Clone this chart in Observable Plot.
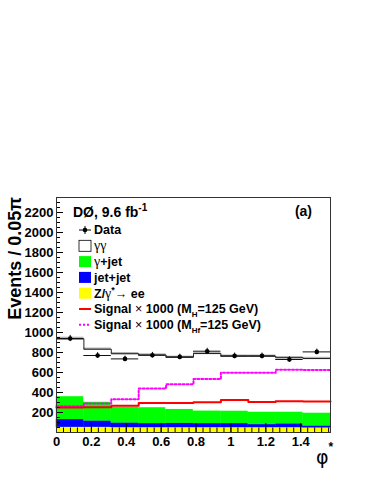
<!DOCTYPE html>
<html><head><meta charset="utf-8">
<script src="https://cdn.jsdelivr.net/npm/d3@7"></script>
<script src="https://cdn.jsdelivr.net/npm/@observablehq/plot@0.6"></script>
<style>
body{margin:0;background:#fff;}
#chart{position:relative;width:374px;height:484px;}
svg{font-family:"Liberation Sans",Arial,sans-serif;}
</style>
</head><body><div id="chart"></div>
<script>
// bin edges in φ* (0.05π wide bins)
const binEdges = [0, 0.1571, 0.3142, 0.4712, 0.6283, 0.7854, 0.9425, 1.0996, 1.2566, 1.4137, 1.5708];
const dataCounts = [940, 770, 736, 773, 756, 813, 766, 766, 730, 806];
const dataErr = [31, 28, 27, 28, 27, 29, 28, 28, 27, 28];
const zee = [52, 52, 50, 50, 50, 50, 50, 50, 50, 48];
const jetjet = [78, 64, 46, 40, 42, 40, 40, 30, 38, 18];
const gammajet = [230, 189, 159, 160, 140, 128, 126, 126, 118, 130];
const diphoton = [577, 528, 533, 525, 520, 572, 547, 557, 542, 544];
const bkgErr = [16, 12, 12, 12, 12, 12, 12, 12, 12, 12];
const signalH = [250, 253, 268, 296, 296, 303, 325, 305, 313, 310];
const signalHf = [263, 290, 333, 440, 482, 535, 598, 598, 628, 626];
const xTickLabels = [0, 0.2, 0.4, 0.6, 0.8, 1, 1.2, 1.4];
const yTickLabels = [200, 400, 600, 800, 1000, 1200, 1400, 1600, 1800, 2000, 2200];
const seriesNames = ["Z/γ*→ee", "jet+jet", "γ+jet", "γγ"];
const seriesColors = ["#ffff00", "#0000ff", "#00ff00", "#ffffff"];

const W = 374, H = 484, mL = 56, mR = 44, mT = 197, mB = 52;
const innerW = W - mL - mR, innerH = H - mT - mB;

const components = [zee, jetjet, gammajet, diphoton];
const bins = dataCounts.map((v, i) => ({
  x1: binEdges[i], x2: binEdges[i + 1], xc: (binEdges[i] + binEdges[i + 1]) / 2,
  data: v, err: dataErr[i],
  total: zee[i] + jetjet[i] + gammajet[i] + diphoton[i], bkgErr: bkgErr[i]
}));
const stackRows = [];
components.forEach((arr, s) => arr.forEach((v, i) => stackRows.push({x1: binEdges[i], x2: binEdges[i + 1], series: seriesNames[s], value: v})));
const stepPts = (vals) => binEdges.map((e, i) => ({x: e, y: vals[Math.min(i, vals.length - 1)]}));
const totalStep = stepPts(bins.map(b => b.total));

const yMajor = d3.range(0, 2351, 200);
const yMinor = d3.range(0, 2351, 50);
const xMajor = d3.range(0, 1.57, 0.2);
const xMinor = d3.range(0, 1.57, 0.04);

const fontStyle = {fontFamily: "Liberation Sans, Arial, sans-serif", fontWeight: "bold", fontSize: "13px"};

const plot = Plot.plot({
  width: W, height: H,
  marginLeft: mL, marginRight: mR, marginTop: mT, marginBottom: mB,
  x: {domain: [0, Math.PI / 2]},
  y: {domain: [0, 2350]},
  color: {domain: seriesNames, range: seriesColors},
  style: {background: "#fff", overflow: "visible"},
  marks: [
    Plot.rectY(stackRows, {x1: "x1", x2: "x2", y: "value", z: "series", fill: "series", stroke: "series", strokeWidth: 0.4, order: seriesNames}),
    Plot.line(stepPts(signalHf), {x: "x", y: "y", curve: "step-after", stroke: "#ff00ff", strokeWidth: 2, strokeDasharray: "2,2"}),
    Plot.line(stepPts(signalH), {x: "x", y: "y", curve: "step-after", stroke: "#ff0000", strokeWidth: 2}),
    Plot.rect(bins, {x1: "x1", x2: "x2", y1: d => d.total - d.bkgErr, y2: d => d.total + d.bkgErr, fill: "#b4b4b4"}),
    Plot.line(totalStep, {x: "x", y: "y", curve: "step-after", stroke: "#222", strokeWidth: 1}),
    Plot.ruleY(bins, {x1: "x1", x2: "x2", y: "data", stroke: "#111", strokeWidth: 1}),
    Plot.ruleX(bins, {x: "xc", y1: d => d.data - d.err, y2: d => d.data + d.err, stroke: "#000", strokeWidth: 1}),
    Plot.dot(bins, {x: "xc", y: "data", r: 2.3, fill: "#000"}),
    Plot.tickY(yMinor, {y: d => d, insetRight: innerW - 4, stroke: "#000"}),
    Plot.tickY(yMajor, {y: d => d, insetRight: innerW - 7, stroke: "#000"}),
    Plot.tickX(xMinor, {x: d => d, insetTop: innerH - 4.5, stroke: "#000"}),
    Plot.tickX(xMajor, {x: d => d, insetTop: innerH - 9, stroke: "#000"}),
    Plot.axisY({ticks: yTickLabels, tickSize: 0, tickPadding: 3, label: null, tickFormat: d => String(d), ...fontStyle, fill: "#000"}),
    Plot.axisX({ticks: xTickLabels, tickSize: 0, tickPadding: 4, label: null, tickFormat: d => String(d), ...fontStyle, fill: "#000"}),
    Plot.frame({stroke: "#333", strokeWidth: 1})
  ]
});
document.getElementById("chart").appendChild(plot);

// annotations / legend drawn inside the frame
const svg = d3.select(plot);
const g = svg.append("g").attr("fill", "#000").attr("text-anchor", "start")
  .attr("font-family", "Liberation Sans, Arial, sans-serif");
const bold = "bold";
// y-axis title
g.append("text").attr("transform", `translate(21,${mT}) rotate(-90)`).attr("text-anchor", "end")
  .attr("font-size", 18).attr("font-weight", bold).text("Events / 0.05π");
// x-axis title
const xt = g.append("text").attr("x", 316).attr("y", 464).attr("font-size", 19);
xt.append("tspan").attr("font-family", "DejaVu Sans").text("φ");
xt.append("tspan").attr("dy", -13).attr("font-size", 12).attr("font-weight", bold).text("*");
// experiment label
const ex = g.append("text").attr("x", 73).attr("y", 216.5).attr("font-size", 14).attr("font-weight", bold);
ex.append("tspan").text("DØ, 9.6 fb");
ex.append("tspan").attr("dy", -6).attr("font-size", 10).text("-1");
g.append("text").attr("x", 312).attr("y", 215.5).attr("text-anchor", "end").attr("font-size", 14).attr("font-weight", bold).text("(a)");

// legend
const ly0 = 230, lstep = 15.8, sx = 79, sw = 12, tx = 94;
const legend = [
  {kind: "data", parts: [["Data", bold]]},
  {kind: "box", fill: "#fff", stroke: "#000", parts: [["γγ", "normal", "Liberation Serif", 14]]},
  {kind: "box", fill: "#00ff00", parts: [["γ", "normal", "Liberation Serif", 14], ["+jet", bold]]},
  {kind: "box", fill: "#0000ff", parts: [["jet+jet", bold]]},
  {kind: "box", fill: "#ffff00", parts: [["Z/", bold], ["γ", "normal", "Liberation Serif", 14], ["*", bold, null, 9, -5], ["→", "normal", null, 12.5, 5], [" ee", bold]]},
  {kind: "line", stroke: "#ff0000", parts: [["Signal ", bold], ["×", "normal"], [" 1000 (M", bold], ["H", bold, null, 8, 4], ["=125 GeV)", bold, null, 12.5, -4]]},
  {kind: "dash", stroke: "#ff00ff", parts: [["Signal ", bold], ["×", "normal"], [" 1000 (M", bold], ["Hf", bold, null, 8, 4], ["=125 GeV)", bold, null, 12.5, -4]]}
];
legend.forEach((it, i) => {
  const cy = ly0 + i * lstep;
  if (it.kind === "data") {
    g.append("line").attr("x1", sx).attr("x2", sx + sw).attr("y1", cy).attr("y2", cy).attr("stroke", "#000");
    g.append("line").attr("x1", sx + sw / 2).attr("x2", sx + sw / 2).attr("y1", cy - 4).attr("y2", cy + 4).attr("stroke", "#000");
    g.append("circle").attr("cx", sx + sw / 2).attr("cy", cy).attr("r", 2.3);
  } else if (it.kind === "box") {
    g.append("rect").attr("x", sx).attr("y", cy - 5.5).attr("width", sw).attr("height", 11)
      .attr("fill", it.fill).attr("stroke", it.stroke || "none").attr("stroke-width", 0.8);
  } else {
    g.append("line").attr("x1", sx).attr("x2", sx + sw).attr("y1", cy).attr("y2", cy)
      .attr("stroke", it.stroke).attr("stroke-width", 2).attr("stroke-dasharray", it.kind === "dash" ? "2,2" : null);
  }
  const t = g.append("text").attr("x", tx).attr("y", cy + 4.4).attr("font-size", 12.5);
  it.parts.forEach(([s, w, fam, fs, dy]) => {
    const sp = t.append("tspan").attr("font-weight", w).text(s);
    if (fam) sp.attr("font-family", fam);
    if (fs) sp.attr("font-size", fs);
    if (dy) sp.attr("dy", dy);
  });
});
</script>
</body></html>
